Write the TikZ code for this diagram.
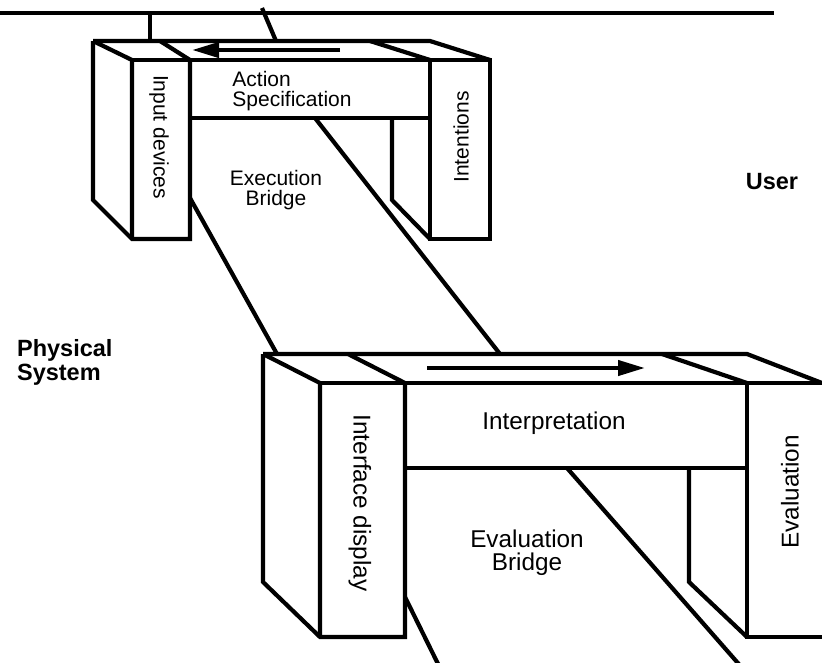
\documentclass[tikz,border=0pt]{standalone}
\usepackage{fontspec}
\setmainfont{Liberation Sans}
\usetikzlibrary{arrows.meta}
\tikzset{
	txt/.style = {align=center, inner sep=0pt, text centered},
	txt_up/.style = {txt, font=\fontsize{21}{20}\selectfont},% pont du haut
	txt_lo/.style = {txt, font=\fontsize{24.3}{23}\selectfont},% pont du bas
	txt_side/.style = {txt, font=\bfseries\fontsize{23.5}{24}\selectfont},% cotes
	frame/.style = {line width=4.2pt, line join=miter}
}

\begin{document}
\begin{tikzpicture}[x=1pt, y=-1pt, frame, ->, >={Triangle[length=27pt,width=15pt]}]
	\clip (0,0) rectangle (822,662);
	% barre du haut
	\draw[-] (0,13) -- (774,13);
	\draw[-] (150,13) -- (150,41);
	\draw[-] (262,8) -- (276,41);
	% pont d'execution
	\coordinate (up_bl) at (93,41);
	\coordinate (up_br) at (430,41);
	\draw[-] (up_bl) -- (up_br) -- (490,60);
	\draw[-] (up_bl) -- (93,200) -- (132,239) -- (190,239) -- (190,60);
	\draw[-] (up_bl) -- (132,60) -- (132,239);
	\draw[-] (160,41) -- (190,60);
	\draw[-] (132,60) -- (490,60);
	\draw[-] (190,118) -- (430,118);
	\draw[-] (370,41) -- (430,60);
	\draw[-] (430,60) rectangle (490,239);
	\draw[-] (392,118) -- (392,200) -- (430,239);
	\draw (340,50) -- (192,50);
	% pont d'evaluation
	\coordinate (lo_bl) at (263,354);
	\coordinate (lo_br) at (747,354);
	\draw[-] (lo_bl) -- (lo_br) -- (822,383);
	\draw[-] (lo_bl) -- (263,582) -- (320,637) -- (405,637) -- (405,383);
	\draw[-] (lo_bl) -- (320,383) -- (320,637);
	\draw[-] (348,354) -- (405,383);
	\draw[-] (320,383) -- (830,383);
	\draw[-] (405,468) -- (747,468);
	\draw[-] (662,354) -- (747,383);
	\draw[-] (747,383) -- (747,637) -- (830,637);
	\draw[-] (689,468) -- (689,582) -- (747,637);
	\draw (427,368) -- (645,368);
	% les deux chemins
	\draw[-] (190,198) -- (277,354);
	\draw[-] (315,118) -- (500,354);
	\draw[-] (405,597) -- (441,670);
	\draw[-] (567,468) -- (744,670);
	% textes
	\node[txt_up, rotate=-90] (in_dev) at (159,137) {Input devices};
	\node[txt_up, align=left] (act_spec) at (292,91) {Action\\Specification};
	\node[txt_up, rotate=90] (intent) at (461,137) {Intentions};
	\node[txt_up] (exec_br) at (276,190) {Execution\\Bridge};
	\node[txt_lo, rotate=-90] (if_disp) at (360,503) {Interface display};
	\node[txt_lo] (interp) at (554,423) {Interpretation};
	\node[txt_lo] (eval_br) at (527,553) {Evaluation\\Bridge};
	\node[txt_lo, rotate=90] (evalu) at (790,492) {Evaluation};
	\node[txt_side] (user) at (772,182) {User};
	\node[txt_side, align=left, anchor=west] (phys) at (15,362) {Physical\\System};
\end{tikzpicture}
\end{document}
